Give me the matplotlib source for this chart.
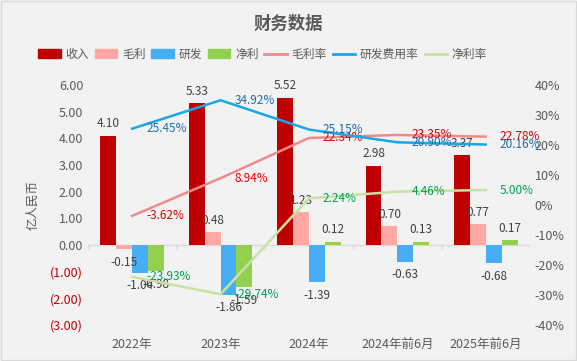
import numpy as np
import matplotlib.pyplot as plt
from matplotlib.patches import Patch
from matplotlib.lines import Line2D

plt.rcParams['font.family'] = ['Noto Sans CJK SC', 'DejaVu Sans']

categories = ['2022年', '2023年', '2024年', '2024年前6月', '2025年前6月']
revenue = [4.10, 5.33, 5.52, 2.98, 3.37]
gross = [-0.15, 0.48, 1.23, 0.70, 0.77]
rnd = [-1.04, -1.86, -1.39, -0.63, -0.68]
net = [-0.98, -1.59, 0.12, 0.13, 0.17]
gross_rate = [-3.62, 8.94, 22.34, 23.35, 22.78]
rnd_rate = [25.45, 34.92, 25.15, 20.90, 20.16]
net_rate = [-23.93, -29.74, 2.24, 4.46, 5.00]

bar_colors = ['#C00000', '#FFA8A4', '#47AEF5', '#92D050']
line_colors = ['#F08A8A', '#1AA7E8', '#C5E3A3']
text_colors = ['#E00000', '#1F6CAE', '#00A050']
grey = '#595959'
bg = '#F2F2F2'

fig = plt.figure(figsize=(5.77, 3.61), dpi=100, facecolor=bg)
fig.patches.append(plt.Rectangle((0.002, 0.003), 0.996, 0.994, transform=fig.transFigure,
                                 fill=False, edgecolor='#D9D9D9', lw=1))
ax = fig.add_axes([0.1525, 0.0997, 0.766, 0.6648])
ax.set_facecolor(bg)
ax2 = ax.twinx()

x = np.arange(len(categories))
w = 0.18
series = [revenue, gross, rnd, net]
for i, (vals, c) in enumerate(zip(series, bar_colors)):
    xs = x + (i - 1.5) * w
    ax.bar(xs, vals, width=w, color=c, zorder=2)
    for xi, v in zip(xs, vals):
        if v >= 0:
            ax.text(xi, v + 0.2, f'{v:.2f}', ha='center', va='bottom', fontsize=8.5, color='#404040')
        else:
            ax.text(xi, v - 0.25, f'{v:.2f}', ha='center', va='top', fontsize=8.5, color='#404040')

ax.set_xlim(-0.5, len(categories) - 0.5)
ax.set_ylim(-3, 6)
yt = np.arange(-3, 7, 1)
ax.set_yticks(yt)
ax.set_yticklabels([f'{v:.2f}' if v >= 0 else f'({abs(v):.2f})' for v in yt])
for lbl, v in zip(ax.get_yticklabels(), yt):
    lbl.set_color('#C00000' if v < 0 else grey)

# zero line with small separators between categories
ax.axhline(0, color='#D9D9D9', lw=1, zorder=1)
bounds = np.arange(-0.5, len(categories), 1)
ax.vlines(bounds, -0.15, 0, color='#D9D9D9', lw=1, zorder=1)

ax.set_xticks(x)
ax.set_xticklabels(categories, color=grey, fontsize=9)
ax.tick_params(axis='x', length=0, pad=9)
ax.tick_params(axis='y', length=0, labelsize=9)
ax.set_ylabel('亿人民币', color=grey, fontsize=9, labelpad=8)
for s in ax.spines.values():
    s.set_visible(False)
for s in ax2.spines.values():
    s.set_visible(False)

rates = [gross_rate, rnd_rate, net_rate]
for vals, c, tc in zip(rates, line_colors, text_colors):
    ax2.plot(x, vals, color=c, lw=1.8, zorder=3)
    for xi, v in zip(x, vals):
        ax2.annotate(f'{v:.2f}%', (xi, v), xytext=(10, 0), textcoords='offset points',
                     ha='left', va='center', fontsize=8.5, color=tc)

ax2.set_ylim(-40, 40)
ax2.set_yticks(np.arange(-40, 41, 10))
ax2.set_yticklabels([f'{v}%' for v in np.arange(-40, 41, 10)], color=grey)
ax2.tick_params(axis='y', length=0, labelsize=9)

fig.text(0.5, 0.935, '财务数据', ha='center', va='center', fontsize=12.5, fontweight='bold', color=grey)

handles = [Patch(color=c) for c in bar_colors] + [Line2D([], [], color=c, lw=2) for c in line_colors]
labels = ['收入', '毛利', '研发', '净利', '毛利率', '研发费用率', '净利率']
fig.legend(handles, labels, loc='center', bbox_to_anchor=(0.455, 0.85), ncol=7, frameon=False,
           fontsize=8.5, handlelength=1.9, handletextpad=0.4, columnspacing=0.5, labelcolor=grey)

fig.savefig('out.png', dpi=100, facecolor=bg)
